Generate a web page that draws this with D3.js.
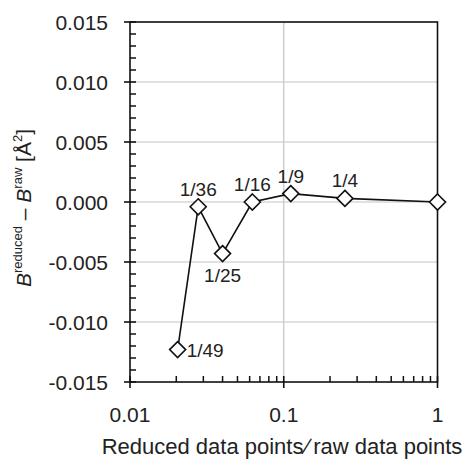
<!DOCTYPE html>
<html>
<head>
<meta charset="utf-8">
<script src="https://cdnjs.cloudflare.com/ajax/libs/d3/7.8.5/d3.min.js"></script>
<style>
  body { margin: 0; background: #fff; }
  text { font-family: "Liberation Sans", Arial, sans-serif; fill: #222; }
</style>
</head>
<body>
<svg id="chart" width="467" height="463"></svg>
<script>
// ratio of reduced to raw data points
var ratios = [1/49, 1/36, 1/25, 1/16, 1/9, 1/4, 1];
var ratioLabels = ["1/49", "1/36", "1/25", "1/16", "1/9", "1/4", ""];
// B(reduced) - B(raw) in A^2
var deltaB = [-0.0123, -0.0004, -0.0043, 0.0000, 0.0007, 0.0003, 0.0000];
// where each label sits relative to its marker
var labelSide = ["right", "above", "below", "above", "above", "above", "none"];

var yTicks = [-0.015, -0.010, -0.005, 0.000, 0.005, 0.010, 0.015];
var xTicks = [0.01, 0.1, 1];
var xTickLabels = ["0.01", "0.1", "1"];

var Chart = (function () {

  var svg = d3.select("#chart");
  var pl = 130, pr = 437.5, pt = 22, pb = 382;

  var x = d3.scaleLog().domain([0.01, 1]).range([pl, pr]);
  var y = d3.scaleLinear().domain([-0.015, 0.015]).range([pb, pt]);

  var hline = function (g, data, x1, x2, color, w) {
    g.selectAll("line").data(data).enter().append("line")
      .attr("x1", x1).attr("x2", x2)
      .attr("y1", function (d) { return y(d); }).attr("y2", function (d) { return y(d); })
      .attr("stroke", color).attr("stroke-width", w);
  };
  var vline = function (g, data, y1, y2, color, w) {
    g.selectAll("line").data(data).enter().append("line")
      .attr("x1", function (d) { return x(d); }).attr("x2", function (d) { return x(d); })
      .attr("y1", y1).attr("y2", y2)
      .attr("stroke", color).attr("stroke-width", w);
  };

  return {
    Draw: function () {
      // grid
      hline(svg.append("g"), yTicks.slice(1, -1), pl, pr, "#c4c4c4", 1.2);
      vline(svg.append("g"), [0.1], pt, pb, "#c4c4c4", 1.2);

      // frame
      svg.append("rect")
        .attr("x", pl).attr("y", pt)
        .attr("width", pr - pl).attr("height", pb - pt)
        .attr("fill", "none").attr("stroke", "#111").attr("stroke-width", 1.6);

      // y ticks: minor every 0.001 inward, major crossing
      var yMinor = d3.range(-15, 16)
        .filter(function (i) { return i % 5 !== 0; })
        .map(function (i) { return i / 1000; });
      hline(svg.append("g"), yMinor, pl, pl + 6, "#111", 1.5);
      hline(svg.append("g"), yTicks, pl - 6, pl + 6, "#111", 1.6);

      var fmt = d3.format(".3f");
      svg.append("g").selectAll("text")
        .data(yTicks).enter().append("text")
        .attr("x", 108).attr("y", function (d) { return y(d); })
        .attr("dy", "0.36em")
        .attr("text-anchor", "end")
        .style("font-size", "21px")
        .text(function (d) { return fmt(d).replace("\u2212", "-"); });

      // x ticks
      var xMinor = [];
      [0.01, 0.1].forEach(function (dec) {
        for (var k = 2; k <= 9; k++) xMinor.push(dec * k);
      });
      vline(svg.append("g"), xMinor, pb, pb - 6, "#111", 1.5);
      vline(svg.append("g"), xTicks, pb - 6, pb + 6, "#111", 1.6);

      svg.append("g").selectAll("text")
        .data(xTicks).enter().append("text")
        .attr("x", function (d) { return x(d); }).attr("y", 422)
        .attr("text-anchor", "middle")
        .style("font-size", "21px")
        .text(function (d, i) { return xTickLabels[i]; });

      // axis titles
      var xt = svg.append("text")
        .attr("x", 282).attr("y", 454)
        .attr("text-anchor", "middle")
        .style("font-size", "22px");
      xt.append("tspan").text("Reduced data points");
      xt.append("tspan").attr("dx", 2).text("\u2215");
      xt.append("tspan").attr("dx", 4).text("raw data points");

      var yt = svg.append("text")
        .attr("transform", "translate(31,208) rotate(-90)")
        .attr("text-anchor", "middle")
        .style("font-size", "21px");
      yt.append("tspan").style("font-style", "italic").text("B");
      yt.append("tspan").attr("dy", -9).style("font-size", "13px").text("reduced");
      yt.append("tspan").attr("dy", 9).text(" \u2013 ");
      yt.append("tspan").style("font-style", "italic").text("B");
      yt.append("tspan").attr("dy", -9).style("font-size", "13px").text("raw");
      yt.append("tspan").attr("dy", 9).text(" [\u00c5");
      yt.append("tspan").attr("dy", -9).style("font-size", "13px").text("2");
      yt.append("tspan").attr("dy", 9).text("]");

      // series
      var pts = ratios.map(function (r, i) {
        return { r: r, v: deltaB[i], lab: ratioLabels[i], side: labelSide[i] };
      });

      svg.append("path")
        .datum(pts)
        .attr("fill", "none").attr("stroke", "#111").attr("stroke-width", 1.6)
        .attr("d", d3.line().x(function (d) { return x(d.r); }).y(function (d) { return y(d.v); }));

      svg.append("g").selectAll("path")
        .data(pts).enter().append("path")
        .attr("transform", function (d) { return "translate(" + x(d.r) + "," + y(d.v) + ")"; })
        .attr("d", "M0,-8L8,0L0,8L-8,0Z")
        .attr("fill", "#fff").attr("stroke", "#111").attr("stroke-width", 1.6);

      svg.append("g").selectAll("text")
        .data(pts.filter(function (d) { return d.side !== "none"; })).enter().append("text")
        .style("font-size", "19px")
        .attr("text-anchor", function (d) { return d.side === "right" ? "start" : "middle"; })
        .attr("x", function (d) { return x(d.r) + (d.side === "right" ? 9 : 0); })
        .attr("y", function (d) {
          var py = y(d.v);
          if (d.side === "right") return py + 7;
          if (d.side === "below") return py + 28;
          return py - 11;
        })
        .text(function (d) { return d.lab; });
    }
  };
})();

Chart.Draw();
</script>
</body>
</html>
